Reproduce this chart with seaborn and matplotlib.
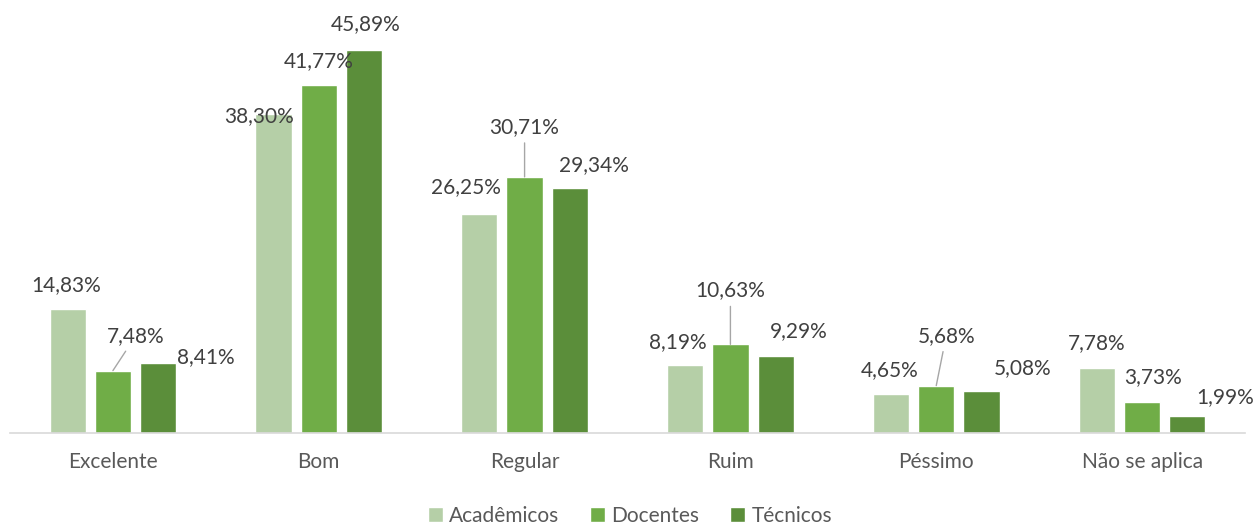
import pandas as pd
import matplotlib.pyplot as plt
import seaborn as sns
from matplotlib.patches import Patch

categorias = ['Excelente', 'Bom', 'Regular', 'Ruim', 'Péssimo', 'Não se aplica']
grupos = ['Acadêmicos', 'Docentes', 'Técnicos']
academicos = [14.83, 38.30, 26.25, 8.19, 4.65, 7.78]
docentes = [7.48, 41.77, 30.71, 10.63, 5.68, 3.73]
tecnicos = [8.41, 45.89, 29.34, 9.29, 5.08, 1.99]

cores = ['#B5CFA7', '#70AD47', '#5B8E3A']

# label offsets in pixels (dx, dy) from bar top, per group / category
offsets = {
    'Acadêmicos': [(-1, 24), (-14, -3), (-13, 27), (-7, 23), (-1, 24), (0, 25)],
    'Docentes': [(23, 35), (0, 24), (0, 50), (0, 54), (10, 50), (11, 25)],
    'Técnicos': [(48, 6), (2, 26), (24, 23), (23, 24), (41, 23), (38, 19)],
}
leader = {'Docentes': [0, 2, 3, 4]}


def main():
	df = pd.DataFrame({
		'categoria': categorias * 3,
		'grupo': [g for g in grupos for _ in categorias],
		'valor': academicos + docentes + tecnicos,
	})

	sns.set_style('white')
	plt.rcParams['font.family'] = ['Lato', 'DejaVu Sans']

	fig = plt.figure(figsize=(12.57, 5.26), dpi=100)
	ax = fig.add_axes([10 / 1257, 93 / 526, 1235 / 1257, 417 / 526])

	sns.barplot(data=df, x='categoria', y='valor', hue='grupo', palette=cores,
				width=0.66, gap=0.2, saturation=1, ax=ax, legend=False)

	ax.set_ylim(0, 50)
	ax.set_xlim(-0.5, 5.5)
	ax.set_xlabel('')
	ax.set_ylabel('')
	ax.set_yticks([])
	for s in ['top', 'left', 'right']:
		ax.spines[s].set_visible(False)
	ax.spines['bottom'].set_color('#D9D9D9')
	ax.spines['bottom'].set_linewidth(1.2)
	ax.tick_params(axis='x', length=0, pad=14, labelsize=15, labelcolor='#595959')

	for gi, (g, cont) in enumerate(zip(grupos, ax.containers)):
		for ci, bar in enumerate(cont):
			v = bar.get_height()
			x = bar.get_x() + bar.get_width() / 2
			dx, dy = offsets[g][ci]
			props = None
			if ci in leader.get(g, []):
				props = dict(arrowstyle='-', color='#A6A6A6', lw=1, shrinkA=2, shrinkB=0)
			ax.annotate(f'{v:.2f}%'.replace('.', ','), xy=(x, v), xytext=(dx, dy),
						textcoords='offset pixels', ha='center', va='center',
						fontsize=15, color='#404040', arrowprops=props,
						annotation_clip=False)

	handles = [Patch(facecolor=c, label=g) for c, g in zip(cores, grupos)]
	fig.legend(handles=handles, loc='center', bbox_to_anchor=(630 / 1257, 10 / 526),
			   ncol=3, frameon=False, fontsize=15, handlelength=0.7, handleheight=0.7,
			   handletextpad=0.3, columnspacing=1.5, labelcolor='#595959')

	plt.savefig('out.png', dpi=100)


if __name__ == '__main__':
	main()
